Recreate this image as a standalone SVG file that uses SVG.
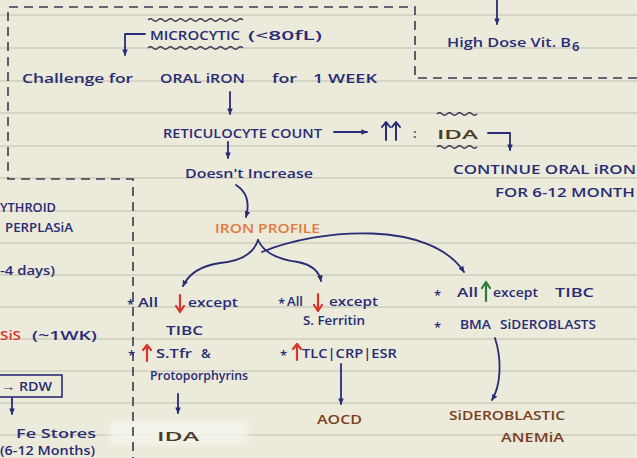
<svg xmlns="http://www.w3.org/2000/svg" width="637" height="458" viewBox="0 0 637 458">
<defs>
<style>
.t{font-family:"Open Sans","Liberation Sans","DejaVu Sans",sans-serif;font-weight:600;fill:#282c74;font-size:13px}
.or{fill:#e27a3c}
.br{fill:#7a3e1c}
.dk{fill:#4a3a28}
.rd{fill:#d8352c}
.c{fill:none;stroke:#282c74;stroke-width:1.8;stroke-linecap:round;stroke-linejoin:round}
.ra{fill:none;stroke:#d8352c;stroke-width:2.2;stroke-linecap:round;stroke-linejoin:round}
.ga{fill:none;stroke:#2e7d3c;stroke-width:2.2;stroke-linecap:round;stroke-linejoin:round}
.na{fill:none;stroke:#282c74;stroke-width:2;stroke-linecap:round;stroke-linejoin:round}
.w{fill:none;stroke:#3a3450;stroke-width:1.2}
.rule{stroke:#cfcdbd;stroke-width:1.4}
</style>
<marker id="ah" viewBox="0 0 10 10" refX="8" refY="5" markerWidth="7" markerHeight="7" orient="auto-start-reverse" markerUnits="userSpaceOnUse">
<path d="M0 1 L9 5 L0 9 Z" fill="#282c74"/>
</marker>
<filter id="soft" x="-20%" y="-50%" width="140%" height="200%"><feGaussianBlur stdDeviation="3"/></filter>
</defs>
<rect x="0" y="0" width="637" height="458" fill="#ebeadb"/>
<g id="paper-lines">
<line class="rule" x1="0" y1="15" x2="637" y2="15"/>
<line class="rule" x1="0" y1="48" x2="637" y2="48"/>
<line class="rule" x1="0" y1="81" x2="637" y2="81"/>
<line class="rule" x1="0" y1="113" x2="637" y2="113"/>
<line class="rule" x1="0" y1="146" x2="637" y2="146"/>
<line class="rule" x1="0" y1="178" x2="637" y2="178"/>
<line class="rule" x1="0" y1="211" x2="637" y2="211"/>
<line class="rule" x1="0" y1="243" x2="637" y2="243"/>
<line class="rule" x1="0" y1="275" x2="637" y2="275"/>
<line class="rule" x1="0" y1="307" x2="637" y2="307"/>
<line class="rule" x1="0" y1="339" x2="637" y2="339"/>
<line class="rule" x1="0" y1="371" x2="637" y2="371"/>
<line class="rule" x1="0" y1="403" x2="637" y2="403"/>
<line class="rule" x1="0" y1="435" x2="637" y2="435"/>
</g>
<rect x="110" y="420" width="138" height="25" fill="#f7f6ee" opacity="0.8" filter="url(#soft)"/>
<path d="M637 78 L415 78 L415 7 L8 7 L8 179 L133 179 L133 458" fill="none" stroke="#3a3a52" stroke-width="1.6" stroke-dasharray="9 6"/>

<g id="connectors">
<path class="c" d="M145 34 L125 34 L125 55" marker-end="url(#ah)"/>
<path class="c" d="M230 92 L230 114" marker-end="url(#ah)"/>
<path class="c" d="M334 132 L367 132" marker-end="url(#ah)"/>
<path class="c" d="M488 133 L510 133 L510 150" marker-end="url(#ah)"/>
<path class="c" d="M228 142 L228 158" marker-end="url(#ah)"/>
<path class="c" d="M236 185 Q252 195 246 217" marker-end="url(#ah)"/>
<path class="c" d="M258 240 Q252 260 220 263 Q192 267 183 286" marker-end="url(#ah)"/>
<path class="c" d="M258 240 Q266 258 298 262 Q318 266 321 281" marker-end="url(#ah)"/>
<path class="c" d="M262 252 C320 228 430 220 464 272" marker-end="url(#ah)"/>
<path class="c" d="M497 0 L497 24" marker-end="url(#ah)"/>
<path class="c" d="M178 394 L178 413" marker-end="url(#ah)"/>
<path class="c" d="M341 364 L341 404" marker-end="url(#ah)"/>
<path class="c" d="M495 338 C502 360 501 385 492 400" marker-end="url(#ah)"/>
<path class="c" d="M12 398 L12 414" marker-end="url(#ah)"/>
</g>

<g id="microcytic">
<path class="w" d="M148 20 q2.5 -2.5 5 0 t5 0 t5 0 t5 0 t5 0 t5 0 t5 0 t5 0 t5 0 t5 0 t5 0 t5 0 t5 0 t5 0 t5 0 t5 0 t5 0 t5 0 t5 0"/>
<path class="w" d="M148 48 q2.5 -2.5 5 0 t5 0 t5 0 t5 0 t5 0 t5 0 t5 0 t5 0 t5 0 t5 0 t5 0 t5 0 t5 0 t5 0 t5 0 t5 0 t5 0 t5 0 t5 0"/>
<text class="t" x="150" y="40" font-size="14" textLength="90" lengthAdjust="spacingAndGlyphs">MICROCYTIC</text>
<text class="t" x="248" y="40" font-size="14" textLength="74" lengthAdjust="spacingAndGlyphs">(&lt;80fL)</text>
</g>
<g id="oral-iron">
<text class="t" x="22" y="83" font-size="15" textLength="111" lengthAdjust="spacingAndGlyphs">Challenge for</text>
<text class="t" x="160" y="83" font-size="14" textLength="85" lengthAdjust="spacingAndGlyphs">ORAL iRON</text>
<text class="t" x="272" y="83" font-size="15" textLength="25" lengthAdjust="spacingAndGlyphs">for</text>
<text class="t" x="313" y="83" font-size="14" textLength="64" lengthAdjust="spacingAndGlyphs">1 WEEK</text>
</g>
<g id="reticulocyte">
<text class="t" x="163" y="138" font-size="12" textLength="159" lengthAdjust="spacingAndGlyphs">RETICULOCYTE  COUNT</text>
</g>
<g id="ida-top">
<path class="na" d="M386 140 L386 123 M382 127 L386 122 L390 127 M396 140 L396 123 M392 127 L396 122 L400 127"/>
<text class="t" x="413" y="138" font-size="14">:</text>
<path class="w" d="M437 114 q2.5 -2.5 5 0 t5 0 t5 0 t5 0 t5 0 t5 0 t5 0 t5 0"/>
<path class="w" d="M437 147 q2.5 -2.5 5 0 t5 0 t5 0 t5 0 t5 0 t5 0 t5 0 t5 0"/>
<text class="t dk" x="437" y="139" font-size="16" textLength="41" lengthAdjust="spacingAndGlyphs">IDA</text>
</g>
<g id="continue">
<text class="t" x="453" y="174" font-size="12.5" textLength="183" lengthAdjust="spacingAndGlyphs">CONTINUE  ORAL  iRON</text>
<text class="t" x="495" y="197" font-size="12" textLength="140" lengthAdjust="spacingAndGlyphs">FOR  6-12  MONTH</text>
</g>
<g id="b6">
<text class="t" x="447" y="47" font-size="13.5" textLength="124" lengthAdjust="spacingAndGlyphs">High Dose  Vit. B</text>
<text class="t" x="572" y="51" font-size="10">6</text>
</g>
<g id="doesnt">
<text class="t" x="185" y="178" font-size="13" textLength="128" lengthAdjust="spacingAndGlyphs">Doesn't  Increase</text>
</g>
<g id="iron-profile">
<text class="t or" x="215" y="233" font-size="12.5" textLength="105" lengthAdjust="spacingAndGlyphs">IRON  PROFILE</text>
</g>
<g id="ida-branch">
<text class="t" x="127" y="309" font-size="12">*</text>
<text class="t" x="138" y="307" font-size="12.5" textLength="20" lengthAdjust="spacingAndGlyphs">All</text>
<path class="ra" d="M180 295 L180 311 M176 306 L180 312 L184 306"/>
<text class="t" x="188" y="307" font-size="12.5" textLength="50" lengthAdjust="spacingAndGlyphs">except</text>
<text class="t" x="166" y="335" font-size="13.5" textLength="37" lengthAdjust="spacingAndGlyphs">TIBC</text>
<text class="t" x="128" y="360" font-size="12">*</text>
<path class="ra" d="M147 361 L147 346 M143 350 L147 345 L151 350"/>
<text class="t" x="156" y="358" font-size="12" textLength="36" lengthAdjust="spacingAndGlyphs">S.Tfr</text>
<text class="t" x="201" y="358" font-size="12">&amp;</text>
<text class="t" x="150" y="380" font-size="12" textLength="98" lengthAdjust="spacingAndGlyphs">Protoporphyrins</text>
<text class="t dk" x="157" y="441" font-size="17" textLength="42" lengthAdjust="spacingAndGlyphs">IDA</text>
</g>
<g id="aocd-branch">
<text class="t" x="278" y="308" font-size="12">*</text>
<text class="t" x="287" y="306" font-size="12.5" textLength="16" lengthAdjust="spacingAndGlyphs">All</text>
<path class="ra" d="M318 294 L318 310 M314 305 L318 311 L322 305"/>
<text class="t" x="329" y="306" font-size="12.5" textLength="49" lengthAdjust="spacingAndGlyphs">except</text>
<text class="t" x="303" y="325" font-size="11.5" textLength="62" lengthAdjust="spacingAndGlyphs">S. Ferritin</text>
<text class="t" x="280" y="360" font-size="12">*</text>
<path class="ra" d="M297 360 L297 345 M293 349 L297 344 L301 349"/>
<text class="t" x="302" y="358" font-size="12" textLength="95" lengthAdjust="spacingAndGlyphs">TLC|CRP|ESR</text>
<text class="t br" x="317" y="424" font-size="14" textLength="45" lengthAdjust="spacingAndGlyphs">AOCD</text>
</g>
<g id="sidero-branch">
<text class="t" x="434" y="300" font-size="13">*</text>
<text class="t" x="457" y="297" font-size="13" textLength="21" lengthAdjust="spacingAndGlyphs">All</text>
<path class="ga" d="M486 301 L486 283 M482 288 L486 282 L490 288"/>
<text class="t" x="493" y="297" font-size="13" textLength="45" lengthAdjust="spacingAndGlyphs">except</text>
<text class="t" x="555" y="297" font-size="13" textLength="39" lengthAdjust="spacingAndGlyphs">TIBC</text>
<text class="t" x="434" y="332" font-size="13">*</text>
<text class="t" x="460" y="329" font-size="12" textLength="31" lengthAdjust="spacingAndGlyphs">BMA</text>
<text class="t" x="500" y="329" font-size="12" textLength="96" lengthAdjust="spacingAndGlyphs">SiDEROBLASTS</text>
<text class="t br" x="449" y="420" font-size="13" textLength="116" lengthAdjust="spacingAndGlyphs">SiDEROBLASTIC</text>
<text class="t br" x="501" y="442" font-size="13" textLength="63" lengthAdjust="spacingAndGlyphs">ANEMiA</text>
</g>
<g id="left-column">
<text class="t" x="0" y="212" font-size="12" textLength="56" lengthAdjust="spacingAndGlyphs">YTHROID</text>
<text class="t" x="5" y="232" font-size="12" textLength="68" lengthAdjust="spacingAndGlyphs">PERPLASiA</text>
<text class="t" x="0" y="275" font-size="13" textLength="55" lengthAdjust="spacingAndGlyphs">-4 days)</text>
<text class="t rd" x="0" y="340" font-size="12.5" textLength="21" lengthAdjust="spacingAndGlyphs">SiS</text>
<text class="t" x="32" y="340" font-size="13" textLength="65" lengthAdjust="spacingAndGlyphs">(~1WK)</text>
<rect x="-2" y="375" width="64" height="22" fill="none" stroke="#282c74" stroke-width="1.6"/>
<text class="t" x="1" y="391" font-size="12.5" textLength="51" lengthAdjust="spacingAndGlyphs">→ RDW</text>
<text class="t" x="16" y="438" font-size="14" textLength="80" lengthAdjust="spacingAndGlyphs">Fe  Stores</text>
<text class="t" x="0" y="455" font-size="11" textLength="95" lengthAdjust="spacingAndGlyphs">(6-12 Months)</text>
</g>
</svg>
